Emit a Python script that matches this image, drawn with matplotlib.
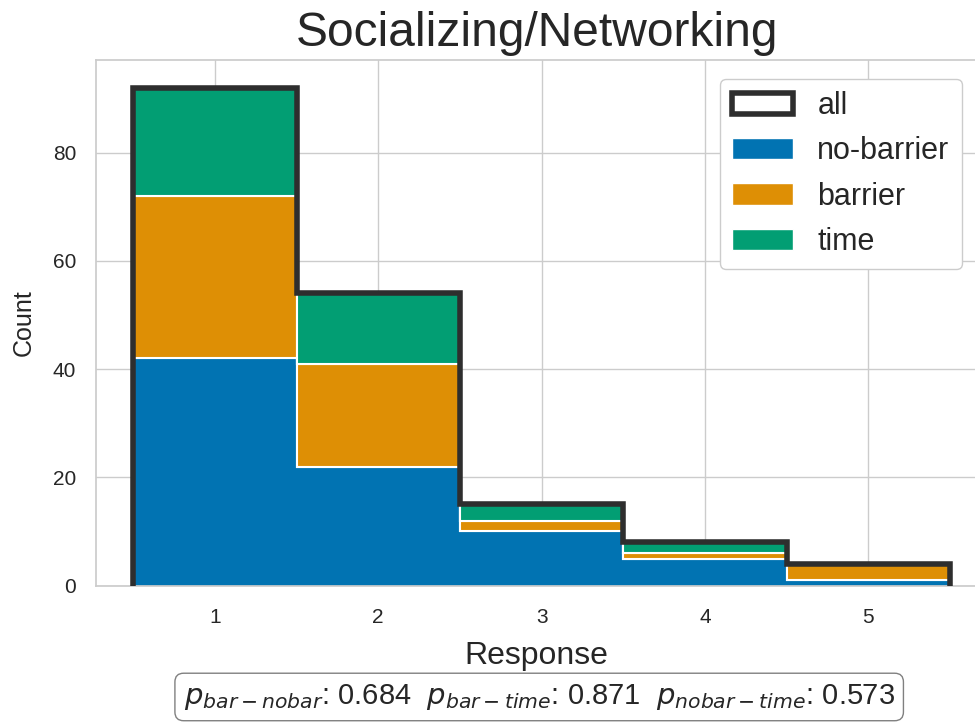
import matplotlib
matplotlib.use("Agg")
import matplotlib.pyplot as plt
import seaborn as sns
import numpy as np
from matplotlib.patches import Patch

responses = [1, 2, 3, 4, 5]
no_barrier = [42, 22, 10, 5, 1]
barrier = [30, 19, 2, 1, 3]
time_ = [20, 13, 3, 2, 0]
p_text = r"$p_{bar-nobar}$: 0.684  $p_{bar-time}$: 0.871  $p_{nobar-time}$: 0.573"

sns.set_theme(style="whitegrid")
pal = sns.color_palette("colorblind")
plt.rcParams['font.family'] = ['Liberation Sans', 'DejaVu Sans']

fig = plt.figure(figsize=(9.75, 7.23), dpi=100)
ax = fig.add_axes([0.098, 0.19, 0.905, 0.727])

x = np.array(responses)
nb = np.array(no_barrier)
b = np.array(barrier)
t = np.array(time_)
allc = nb + b + t
edges = np.concatenate([x - 0.5, [x[-1] + 0.5]])

ax.stairs(nb, edges, baseline=0, fill=True, facecolor=pal[0], edgecolor='white', linewidth=1.5, zorder=2)
ax.stairs(nb + b, edges, baseline=nb, fill=True, facecolor=pal[1], edgecolor='white', linewidth=1.5, zorder=2)
ax.stairs(nb + b + t, edges, baseline=nb + b, fill=True, facecolor=pal[2], edgecolor='white', linewidth=1.5, zorder=2)

sx = np.repeat(edges, 2)
sy = np.concatenate([[0], np.repeat(allc, 2), [0]])
ax.plot(sx, sy, color='#2e2e2e', lw=4, zorder=3, solid_joinstyle='miter')

handles = [Patch(facecolor='white', edgecolor='#2e2e2e', linewidth=4, label='all'),
           Patch(facecolor=pal[0], label='no-barrier'),
           Patch(facecolor=pal[1], label='barrier'),
           Patch(facecolor=pal[2], label='time')]
leg = ax.legend(handles=handles, loc='upper right', fontsize=22, framealpha=1,
                bbox_to_anchor=(0.999, 0.993))
leg.get_frame().set_edgecolor('#cccccc')

ax.set_xlim(0.27, 5.67)
ax.set_ylim(0, 97.1)
ax.set_xticks(responses)
ax.set_yticks([0, 20, 40, 60, 80])
ax.tick_params(labelsize=15)
ax.tick_params(axis='x', pad=10)
ax.tick_params(axis='y', pad=8)
ax.set_xlabel('Response', fontsize=23, labelpad=10)
ax.set_ylabel('Count', fontsize=18, labelpad=12)
ax.set_title('Socializing/Networking', fontsize=34.5, pad=10)

fig.text(0.553, 0.036, p_text, fontsize=21, ha='center', va='center',
         bbox=dict(boxstyle='round,pad=0.3', facecolor='white', edgecolor='gray'))

fig.savefig('out.png', dpi=100)
